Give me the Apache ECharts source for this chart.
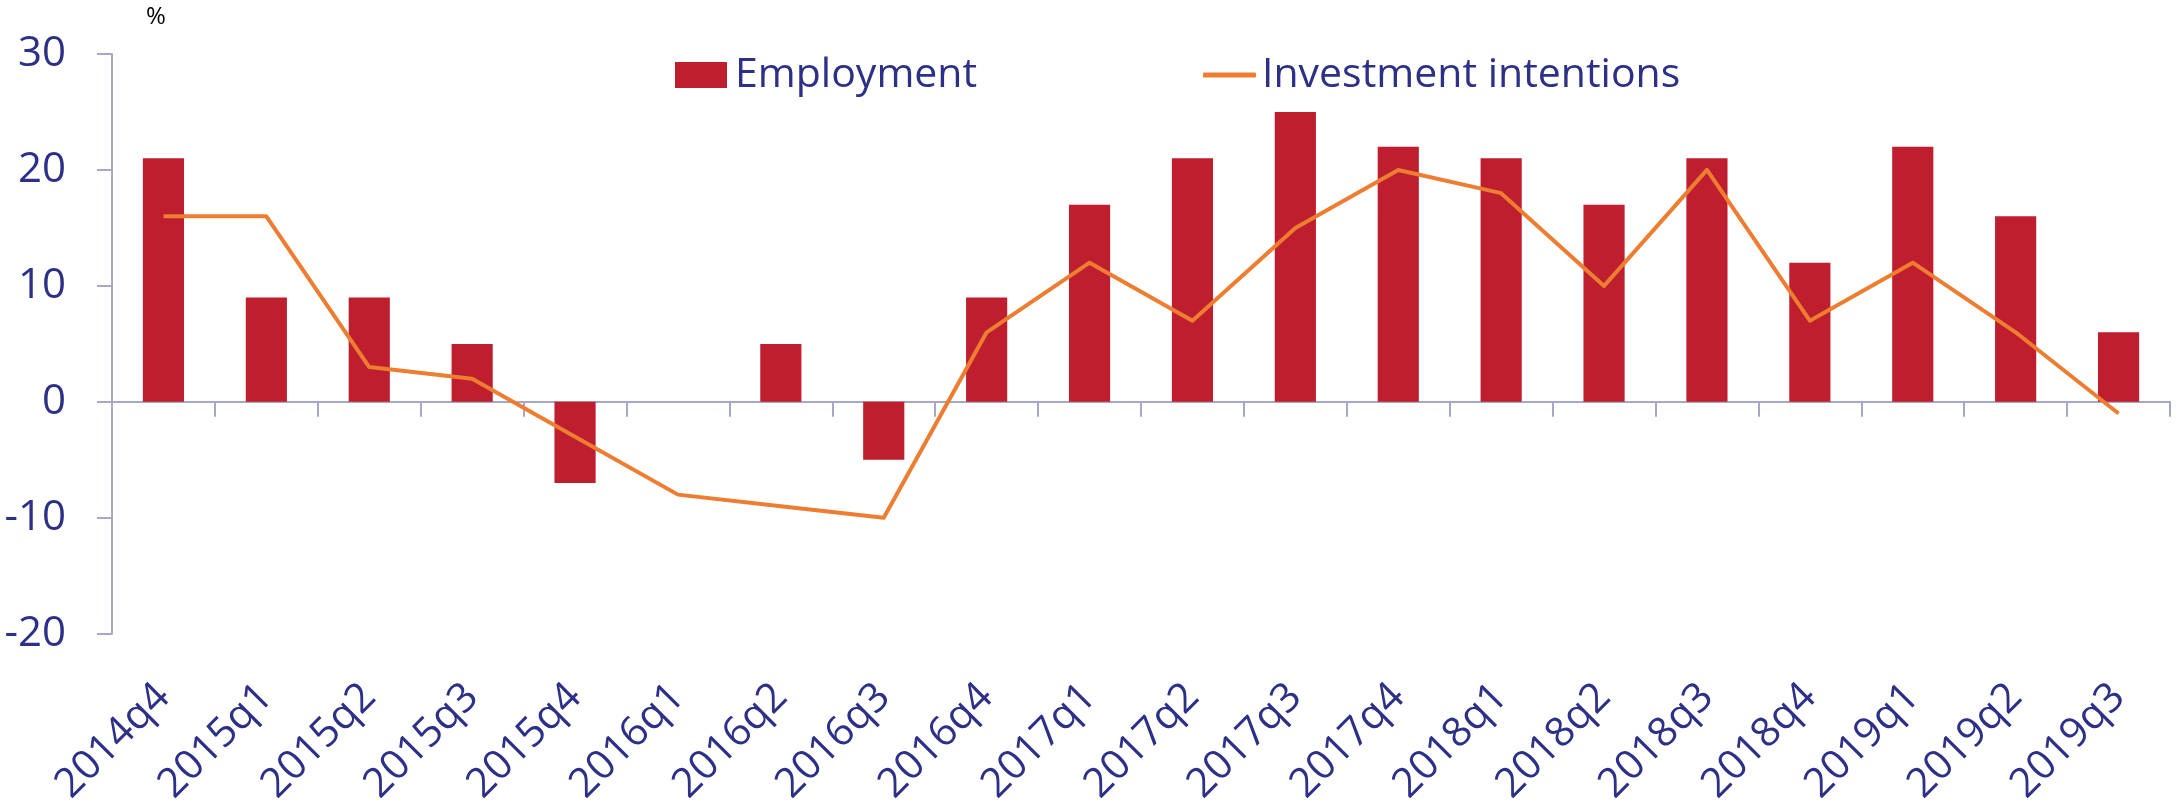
<!DOCTYPE html>
<html>
<head>
<meta charset="utf-8">
<title>Employment and investment intentions</title>
<script src="https://cdn.jsdelivr.net/npm/echarts@6/dist/echarts.min.js"></script>
<style>
  html, body { margin: 0; padding: 0; background: #ffffff; }
  #chart { width: 2177px; height: 808px; }
</style>
</head>
<body>
<div id="chart"></div>
<script>
// Quarterly balances, per cent
const quarters = ['2014q4', '2015q1', '2015q2', '2015q3', '2015q4', '2016q1', '2016q2', '2016q3', '2016q4',
  '2017q1', '2017q2', '2017q3', '2017q4', '2018q1', '2018q2', '2018q3', '2018q4', '2019q1', '2019q2', '2019q3'];
const employment = [21, 9, 9, 5, -7, 0, 5, -5, 9, 17, 21, 25, 22, 21, 17, 21, 12, 22, 16, 6];
const investmentIntentions = [16, 16, 3, 2, -3, -8, -9, -10, 6, 12, 7, 15, 20, 18, 10, 20, 7, 12, 6, -1];
const yTicks = { min: -20, max: 30, step: 10 };

const NAVY = '#2D3087';
const AXIS = '#A7A7C6';
const RED = '#BE1E2D';
const ORANGE = '#ED7D31';
const FONT = '"Open Sans", sans-serif';

const chart = echarts.init(document.getElementById('chart'), null, { renderer: 'canvas' });

chart.setOption({
  backgroundColor: '#ffffff',
  animation: false,
  textStyle: { fontFamily: FONT },
  grid: { left: 112, right: 7, top: 54, bottom: 172, containLabel: false },
  graphic: [{
    type: 'text',
    left: 146, top: 5,
    style: { text: '%', fill: '#000000', font: '24px ' + FONT }
  }],
  legend: [
    {
      data: [{ name: 'Employment', icon: 'rect' }],
      left: 670, top: 49,
      itemWidth: 52, itemHeight: 26,
      textStyle: { color: NAVY, fontSize: 41, fontFamily: FONT, lineHeight: 42, padding: [0, 0, 0, 3] },
      selectedMode: false
    },
    {
      data: [{ name: 'Investment intentions', icon: 'roundRect' }],
      left: 1198, top: 49,
      itemWidth: 53, itemHeight: 5,
      textStyle: { color: NAVY, fontSize: 41, fontFamily: FONT, lineHeight: 42, padding: [0, 0, 0, 1] },
      selectedMode: false
    }
  ],
  xAxis: [
    {
      // axis line through zero with boundary ticks
      type: 'category',
      data: quarters,
      boundaryGap: true,
      axisLine: { show: true, onZero: true, lineStyle: { color: AXIS, width: 2 } },
      axisTick: { show: true, inside: false, length: 15, lineStyle: { color: AXIS, width: 2 } },
      axisLabel: { show: false },
      splitLine: { show: false }
    },
    {
      // quarter labels along the bottom of the plot
      type: 'category',
      data: quarters,
      position: 'bottom',
      boundaryGap: true,
      axisLine: { show: false, onZero: false },
      axisTick: { show: false },
      axisLabel: {
        show: true, interval: 0, rotate: 45, margin: 57,
        color: NAVY, fontSize: 41, fontFamily: FONT
      },
      splitLine: { show: false }
    }
  ],
  yAxis: {
    type: 'value',
    min: yTicks.min, max: yTicks.max, interval: yTicks.step,
    axisLine: { show: true, lineStyle: { color: AXIS, width: 2 } },
    axisTick: { show: true, inside: false, length: 15, lineStyle: { color: AXIS, width: 2 } },
    axisLabel: { color: NAVY, fontSize: 42, fontFamily: FONT, margin: 46 },
    splitLine: { show: false }
  },
  series: [
    {
      name: 'Employment',
      type: 'bar',
      xAxisIndex: 0,
      data: employment,
      barWidth: '40%',
      itemStyle: { color: RED },
      z: 2
    },
    {
      name: 'Investment intentions',
      type: 'line',
      xAxisIndex: 0,
      data: investmentIntentions,
      symbol: 'none',
      lineStyle: { color: ORANGE, width: 4, join: 'round' },
      itemStyle: { color: ORANGE },
      z: 3
    }
  ]
});
</script>
</body>
</html>
